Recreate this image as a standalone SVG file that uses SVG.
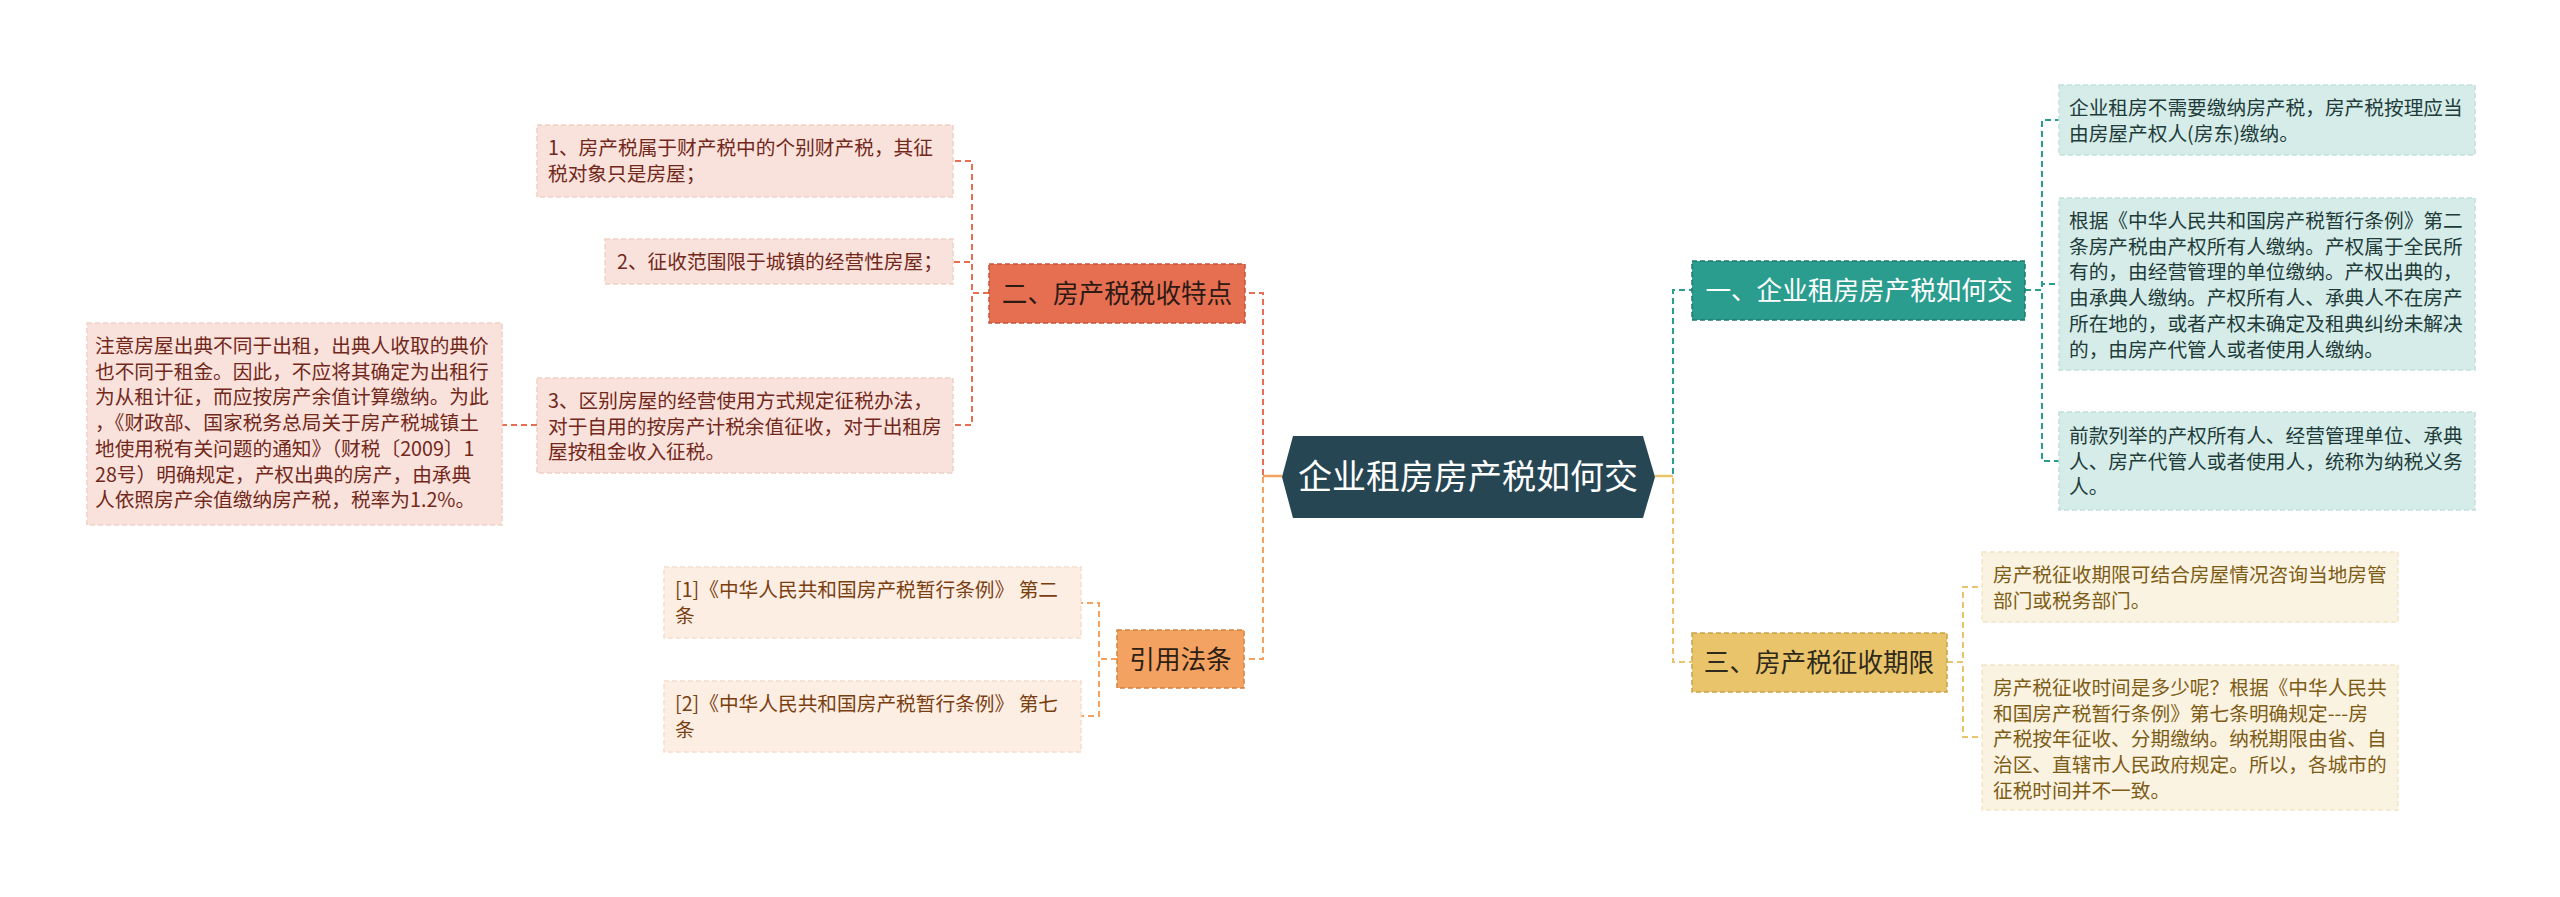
<svg xmlns="http://www.w3.org/2000/svg" width="2560" height="897" viewBox="0 0 2560 897">
<style>
text{font-family:"Noto Sans CJK SC","Noto Sans",sans-serif;}
.leaf{font-size:19.7px;}
.br{font-size:25.6px;text-anchor:middle;}
.c{fill:none;stroke-width:2;stroke-dasharray:6 4;}
.ct{stroke:#2a9d8f;} .cr{stroke:#e76f51;} .cy{stroke:#e9c46a;} .co{stroke:#f4a261;}
.lt{fill:#d5ece9;stroke:#c2e0dc;stroke-width:1.5;stroke-dasharray:5 3;}
.lr{fill:#f9e2dc;stroke:#f1cfc5;stroke-width:1.5;stroke-dasharray:5 3;}
.ly{fill:#fbf3e1;stroke:#f3e6c6;stroke-width:1.5;stroke-dasharray:5 3;}
.lo{fill:#fdeee4;stroke:#f6ddcb;stroke-width:1.5;stroke-dasharray:5 3;}
.tt{fill:#213b39;} .tr{fill:#72281a;} .ty{fill:#7d5c16;} .to{fill:#7a3f10;}
</style>
<rect width="2560" height="897" fill="#ffffff"/>
<g id="connectors">
<path class="c cr" d="M1282,476 H1263 V293 H1245"/>
<path class="c co" d="M1282,476 H1263 V659 H1244"/>
<path class="c ct" d="M1655,476 H1673 V290 H1692"/>
<path class="c cy" d="M1655,476 H1673 V662 H1692"/>
<path d="M1263,476 H1282" stroke="#f4a261" stroke-width="2.5"/>
<path d="M1655,476 H1673" stroke="#e9c46a" stroke-width="2.5"/>
<path class="c cr" d="M989,293 H972 V161 H953"/>
<path class="c cr" d="M989,293 H972 V262 H953"/>
<path class="c cr" d="M989,293 H972 V425 H953"/>
<path class="c cr" d="M537,425 H502"/>
<path class="c co" d="M1117,659 H1099 V603 H1081"/>
<path class="c co" d="M1117,659 H1099 V716 H1081"/>
<path class="c ct" d="M2025,290 H2042 V120 H2059"/>
<path class="c ct" d="M2025,290 H2042 V284 H2059"/>
<path class="c ct" d="M2025,290 H2042 V461 H2059"/>
<path class="c cy" d="M1947,662 H1963 V587 H1982"/>
<path class="c cy" d="M1947,662 H1963 V737 H1982"/>
</g>
<g id="root">
<polygon points="1282,477 1293,436 1643,436 1655,477 1643,518 1293,518" fill="#264653"/>
<text x="1468" y="489" font-size="34" fill="#ffffff" text-anchor="middle">企业租房房产税如何交</text>
</g>
<g id="branch-1">
<rect x="1692" y="261" width="333" height="59" fill="#2a9d8f" stroke="#1f7a6f" stroke-width="1.5" stroke-dasharray="5 3"/>
<text class="br" x="1859" y="300" fill="#ffffff">一、企业租房房产税如何交</text>
</g>
<g id="leaf-1-1">
<rect class="lt" x="2059" y="85" width="416" height="70"/>
<text class="leaf tt" x="2069" y="115">企业租房不需要缴纳房产税，房产税按理应当</text>
<text class="leaf tt" x="2069" y="141">由房屋产权人(房东)缴纳。</text>
</g>
<g id="leaf-1-2">
<rect class="lt" x="2059" y="198" width="416" height="172"/>
<text class="leaf tt" x="2069" y="228">根据《中华人民共和国房产税暂行条例》第二</text>
<text class="leaf tt" x="2069" y="253.7">条房产税由产权所有人缴纳。产权属于全民所</text>
<text class="leaf tt" x="2069" y="279.4">有的，由经营管理的单位缴纳。产权出典的，</text>
<text class="leaf tt" x="2069" y="305.1">由承典人缴纳。产权所有人、承典人不在房产</text>
<text class="leaf tt" x="2069" y="330.8">所在地的，或者产权未确定及租典纠纷未解决</text>
<text class="leaf tt" x="2069" y="356.5">的，由房产代管人或者使用人缴纳。</text>
</g>
<g id="leaf-1-3">
<rect class="lt" x="2059" y="412" width="416" height="98"/>
<text class="leaf tt" x="2069" y="443">前款列举的产权所有人、经营管理单位、承典</text>
<text class="leaf tt" x="2069" y="468.7">人、房产代管人或者使用人，统称为纳税义务</text>
<text class="leaf tt" x="2069" y="494.4">人。</text>
</g>
<g id="branch-2">
<rect x="989" y="264" width="256" height="59" fill="#e76f51" stroke="#c4553a" stroke-width="1.5" stroke-dasharray="5 3"/>
<text class="br" x="1117" y="303" fill="#2c1a14">二、房产税税收特点</text>
</g>
<g id="leaf-2-1">
<rect class="lr" x="537" y="125" width="416" height="72"/>
<text class="leaf tr" x="548" y="155">1、房产税属于财产税中的个别财产税，其征</text>
<text class="leaf tr" x="548" y="181">税对象只是房屋；</text>
</g>
<g id="leaf-2-2">
<rect class="lr" x="605" y="239" width="348" height="45"/>
<text class="leaf tr" x="617" y="269">2、征收范围限于城镇的经营性房屋；</text>
</g>
<g id="leaf-2-3">
<rect class="lr" x="537" y="378" width="416" height="95"/>
<text class="leaf tr" x="548" y="408">3、区别房屋的经营使用方式规定征税办法，</text>
<text class="leaf tr" x="548" y="433.7">对于自用的按房产计税余值征收，对于出租房</text>
<text class="leaf tr" x="548" y="459.4">屋按租金收入征税。</text>
</g>
<g id="leaf-2-3-1">
<rect class="lr" x="87" y="323" width="415" height="202"/>
<text class="leaf tr" x="95" y="353">注意房屋出典不同于出租，出典人收取的典价</text>
<text class="leaf tr" x="95" y="378.7">也不同于租金。因此，不应将其确定为出租行</text>
<text class="leaf tr" x="95" y="404.4">为从租计征，而应按房产余值计算缴纳。为此</text>
<text class="leaf tr" x="95" y="430.1">，《财政部、国家税务总局关于房产税城镇土</text>
<text class="leaf tr" x="95" y="455.8">地使用税有关问题的通知》（财税〔2009〕1</text>
<text class="leaf tr" x="95" y="481.5">28号）明确规定，产权出典的房产，由承典</text>
<text class="leaf tr" x="95" y="507.2">人依照房产余值缴纳房产税，税率为1.2%。</text>
</g>
<g id="branch-3">
<rect x="1692" y="633" width="255" height="59" fill="#e9c46a" stroke="#c9a446" stroke-width="1.5" stroke-dasharray="5 3"/>
<text class="br" x="1819" y="672" fill="#2e2a1c">三、房产税征收期限</text>
</g>
<g id="leaf-3-1">
<rect class="ly" x="1982" y="552" width="416" height="70"/>
<text class="leaf ty" x="1993" y="582">房产税征收期限可结合房屋情况咨询当地房管</text>
<text class="leaf ty" x="1993" y="607.7">部门或税务部门。</text>
</g>
<g id="leaf-3-2">
<rect class="ly" x="1982" y="665" width="416" height="145"/>
<text class="leaf ty" x="1993" y="695">房产税征收时间是多少呢？根据《中华人民共</text>
<text class="leaf ty" x="1993" y="720.7">和国房产税暂行条例》第七条明确规定---房</text>
<text class="leaf ty" x="1993" y="746.4">产税按年征收、分期缴纳。纳税期限由省、自</text>
<text class="leaf ty" x="1993" y="772.1">治区、直辖市人民政府规定。所以，各城市的</text>
<text class="leaf ty" x="1993" y="797.8">征税时间并不一致。</text>
</g>
<g id="branch-4">
<rect x="1117" y="630" width="127" height="58" fill="#f4a261" stroke="#d4823f" stroke-width="1.5" stroke-dasharray="5 3"/>
<text class="br" x="1180.5" y="668.5" fill="#2c2014">引用法条</text>
</g>
<g id="leaf-4-1">
<rect class="lo" x="664" y="567" width="417" height="71"/>
<text class="leaf to" x="675" y="597">[1]《中华人民共和国房产税暂行条例》 第二</text>
<text class="leaf to" x="675" y="623">条</text>
</g>
<g id="leaf-4-2">
<rect class="lo" x="664" y="681" width="417" height="71"/>
<text class="leaf to" x="675" y="711">[2]《中华人民共和国房产税暂行条例》 第七</text>
<text class="leaf to" x="675" y="737">条</text>
</g>
</svg>
